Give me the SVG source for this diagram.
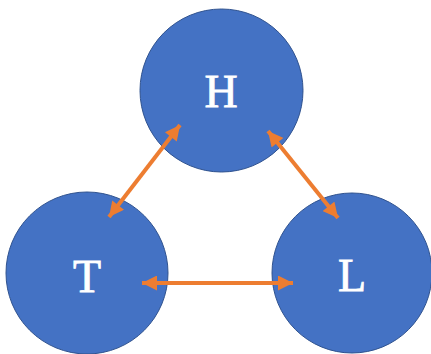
<svg xmlns="http://www.w3.org/2000/svg" width="431" height="354" viewBox="0 0 431 354">
<style>
.node{fill:#4472C4;stroke:#2F528F;stroke-width:1}
.lbl{font-family:"Liberation Serif","Times New Roman",serif;font-size:46px;fill:#FFFFFF;stroke:#FFFFFF;stroke-width:0.8;text-anchor:middle}
.edge{stroke:#ED7D31;stroke-width:4;fill:none;marker-start:url(#ah);marker-end:url(#ah)}
</style>
<defs>
<marker id="ah" viewBox="0 0 10 10" refX="10" refY="5" markerWidth="16" markerHeight="15" markerUnits="userSpaceOnUse" orient="auto-start-reverse">
<path d="M0,0 L10,5 L0,10 z" fill="#ED7D31"/>
</marker>
</defs>
<g id="node-H"><circle class="node" cx="221.5" cy="90.5" r="81.5"/><text class="lbl" x="221" y="107">H</text></g>
<g id="node-T"><circle class="node" cx="87" cy="273" r="81"/><text class="lbl" x="87" y="292">T</text></g>
<g id="node-L"><circle class="node" cx="352" cy="273" r="80"/><text class="lbl" x="352" y="291">L</text></g>
<g id="connectors">
<line class="edge" x1="180" y1="125" x2="109" y2="217"/>
<line class="edge" x1="268" y1="131" x2="338" y2="218"/>
<line class="edge" x1="142" y1="283" x2="293" y2="283"/>
</g>
</svg>
